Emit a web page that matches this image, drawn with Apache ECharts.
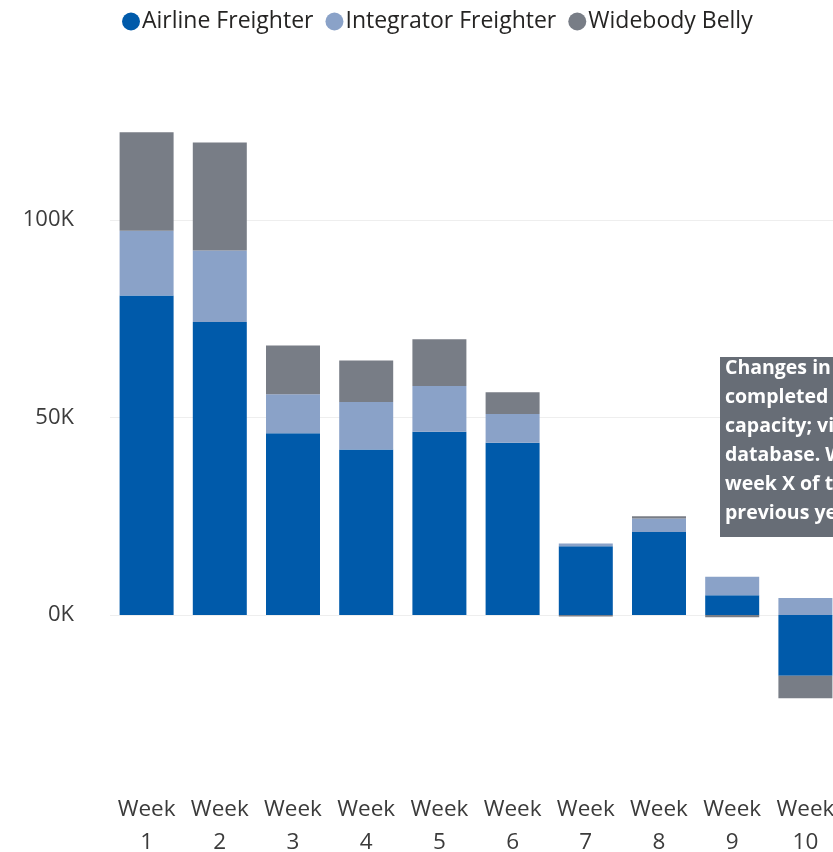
<!DOCTYPE html>
<html lang="en">
<head>
    <meta charset="UTF-8">
    <title>Weekly capacity change</title>
    <script src="https://cdn.jsdelivr.net/npm/echarts@6/dist/echarts.min.js"></script>
    <style>
        html, body { margin: 0; padding: 0; background: #fff; }
        #chart { width: 833px; height: 852px; }
    </style>
</head>
<body>
    <div id="chart"></div>
    <script>
        // categories and values (thousands)
        var weeks = ['Week 1', 'Week 2', 'Week 3', 'Week 4', 'Week 5', 'Week 6', 'Week 7', 'Week 8', 'Week 9', 'Week 10'];
        var airline = [80.9, 74.2, 46.0, 41.9, 46.4, 43.6, 17.4, 21.0, 5.0, -15.4];
        var integrator = [16.4, 18.1, 9.9, 12.0, 11.6, 7.3, 0.7, 3.4, 4.7, 4.3];
        var widebody = [24.9, 27.3, 12.3, 10.5, 11.8, 5.5, -0.4, 0.6, -0.55, -5.7];
        var noteLines = ['Changes in weekly', 'completed flight', 'capacity; via schedule', 'database. Week X vs.', 'week X of the', 'previous year'];

        var font = '"Open Sans", "Noto Sans", sans-serif';

        function k(arr) {
            return arr.map(function (v) { return Math.round(v * 1000); });
        }

        var myChart = echarts.init(document.getElementById('chart'));

        var option = {
            animation: false,
            legend: {
                left: 117,
                top: 5,
                icon: 'circle',
                itemWidth: 18,
                itemHeight: 18,
                itemGap: 12,
                textStyle: { fontFamily: font, fontSize: 23, color: '#252423', padding: [0, 0, 0, -3] },
                data: ['Airline Freighter', 'Integrator Freighter', 'Widebody Belly']
            },
            grid: {
                left: 110,
                width: 732,
                top: 101.5,
                height: 671.5,
                outerBoundsMode: 'none',
                containLabel: false
            },
            xAxis: {
                type: 'category',
                data: weeks,
                axisLine: { show: false },
                axisTick: { show: false },
                axisLabel: {
                    interval: 0,
                    margin: 20,
                    fontFamily: font,
                    fontSize: 22.5,
                    lineHeight: 33,
                    color: '#3b3b3b',
                    formatter: function (v) { return v.replace(' ', '\n'); }
                }
            },
            yAxis: {
                type: 'value',
                min: -40000,
                max: 130000,
                splitNumber: 3,
                axisLine: { show: false },
                axisTick: { show: false },
                axisLabel: {
                    showMinLabel: false,
                    showMaxLabel: false,
                    margin: 36,
                    fontFamily: font,
                    fontSize: 22,
                    color: '#3b3b3b',
                    formatter: function (v) {
                        if (v % 50000 !== 0) return '';
                        return (v / 1000) + 'K';
                    }
                },
                splitLine: {
                    showMinLine: false,
                    showMaxLine: false,
                    lineStyle: { color: '#eeeeee', width: 1 }
                }
            },
            series: [{
                    name: 'Airline Freighter',
                    type: 'bar',
                    stack: 'cap',
                    barWidth: 54,
                    itemStyle: { color: '#005AAA' },
                    data: k(airline)
                },
                {
                    name: 'Integrator Freighter',
                    type: 'bar',
                    stack: 'cap',
                    barWidth: 54,
                    itemStyle: { color: '#8AA2C8' },
                    data: k(integrator)
                },
                {
                    name: 'Widebody Belly',
                    type: 'bar',
                    stack: 'cap',
                    barWidth: 54,
                    itemStyle: { color: '#787D86' },
                    data: k(widebody)
                }
            ],
            graphic: [{
                    type: 'rect',
                    left: 720,
                    top: 357,
                    z: 100,
                    shape: { width: 220, height: 180 },
                    style: { fill: '#676D76' }
                },
                {
                    type: 'text',
                    left: 725,
                    top: 354,
                    z: 101,
                    style: {
                        text: noteLines.join('\n'),
                        fill: '#ffffff',
                        font: 'bold 19.5px "Open Sans", sans-serif',
                        lineHeight: 29
                    }
                }
            ]
        };

        myChart.setOption(option);
    </script>
</body>
</html>
